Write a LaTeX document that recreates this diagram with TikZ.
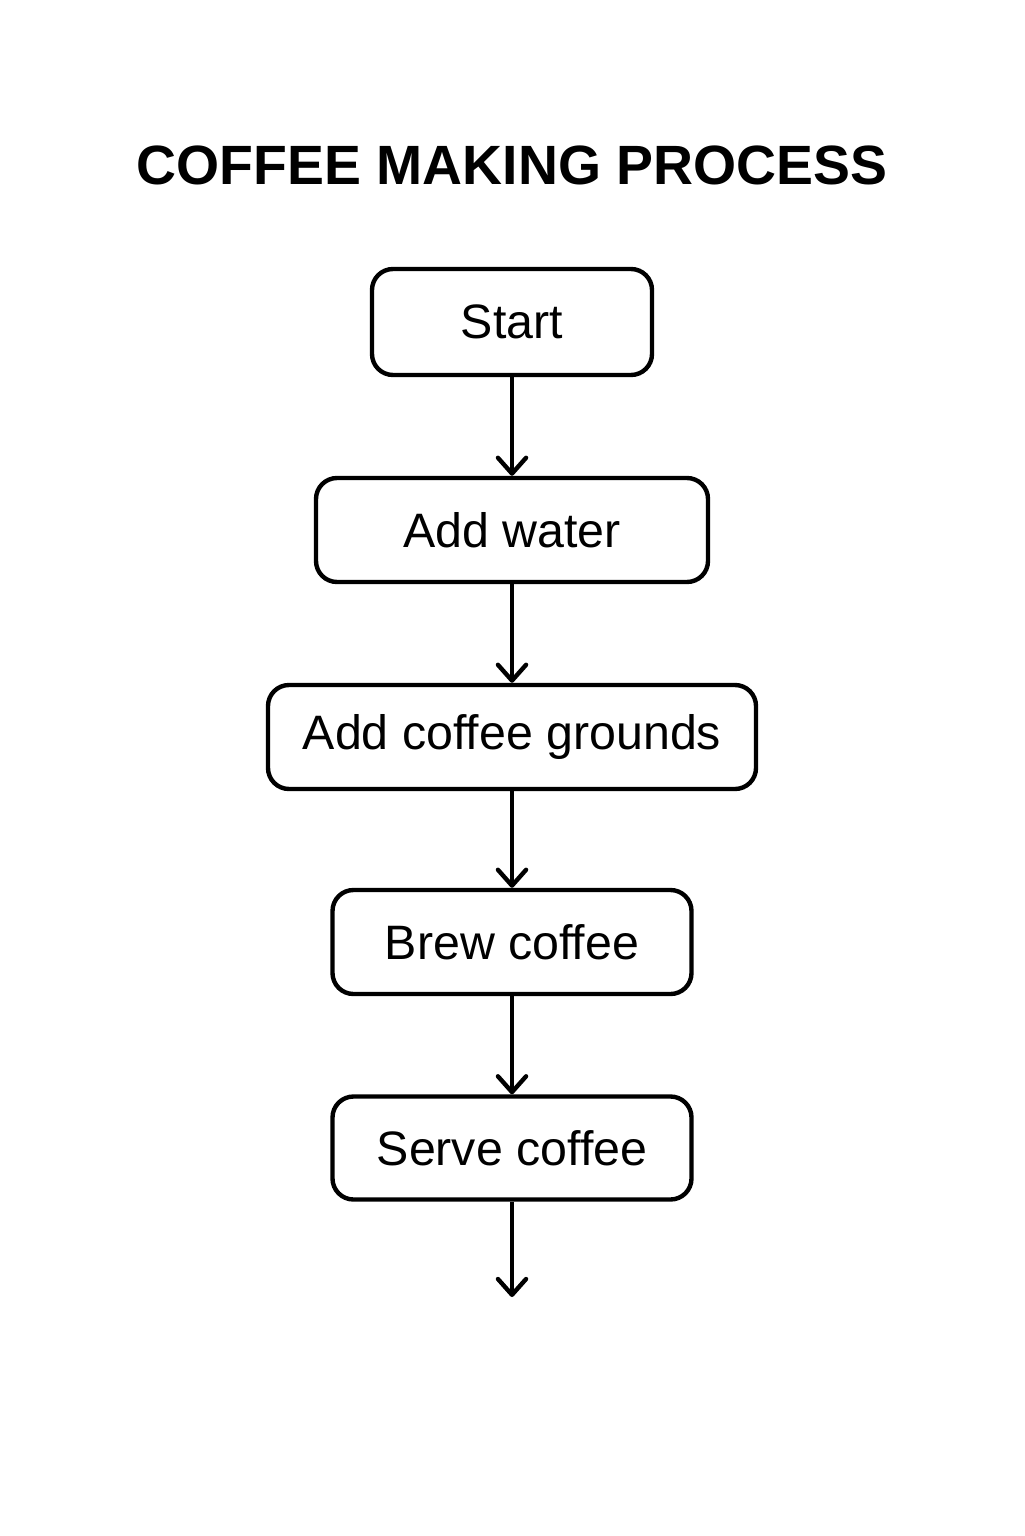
\documentclass[tikz,border=0pt]{standalone}
\usepackage{fontspec}
\setmainfont{Liberation Sans}
\usetikzlibrary{arrows.meta}

\tikzset{
	stepbox/.style={draw, line width=2.5pt, rounded corners=0.42cm, inner sep=0pt, font=\fontsize{27.5}{32}\selectfont},
	flow/.style={line width=2.5pt, -{Straight Barb[length=9pt, width=16pt, round]}}
}

\begin{document}
\begin{tikzpicture}[scale=1]
		\useasboundingbox (0,0) rectangle (20.48,-30.72);
		\node (title) at (10.24,-3.3) [font=\bfseries\fontsize{31.5}{36}\selectfont] {COFFEE MAKING PROCESS};
		
		\node (start) at (10.24,-6.44) [stepbox, minimum width=5.6cm, minimum height=2.12cm] {Start};
		\node (water) at (10.24,-10.6) [stepbox, minimum width=7.84cm, minimum height=2.08cm] {Add water};
		\node (grounds) at (10.24,-14.74) [stepbox, minimum width=9.76cm, minimum height=2.08cm] {Add coffee grounds};
		\node (brew) at (10.24,-18.84) [stepbox, minimum width=7.18cm, minimum height=2.08cm] {Brew coffee};
		\node (serve) at (10.24,-22.96) [stepbox, minimum width=7.18cm, minimum height=2.06cm] {Serve coffee};
		\coordinate (end) at (10.24,-25.94);
		
		\draw[flow] (start)--(water);
		\draw[flow] (water)--(grounds);
		\draw[flow] (grounds)--(brew);
		\draw[flow] (brew)--(serve);
		\draw[flow] (serve)--(end);
	\end{tikzpicture}
\end{document}
